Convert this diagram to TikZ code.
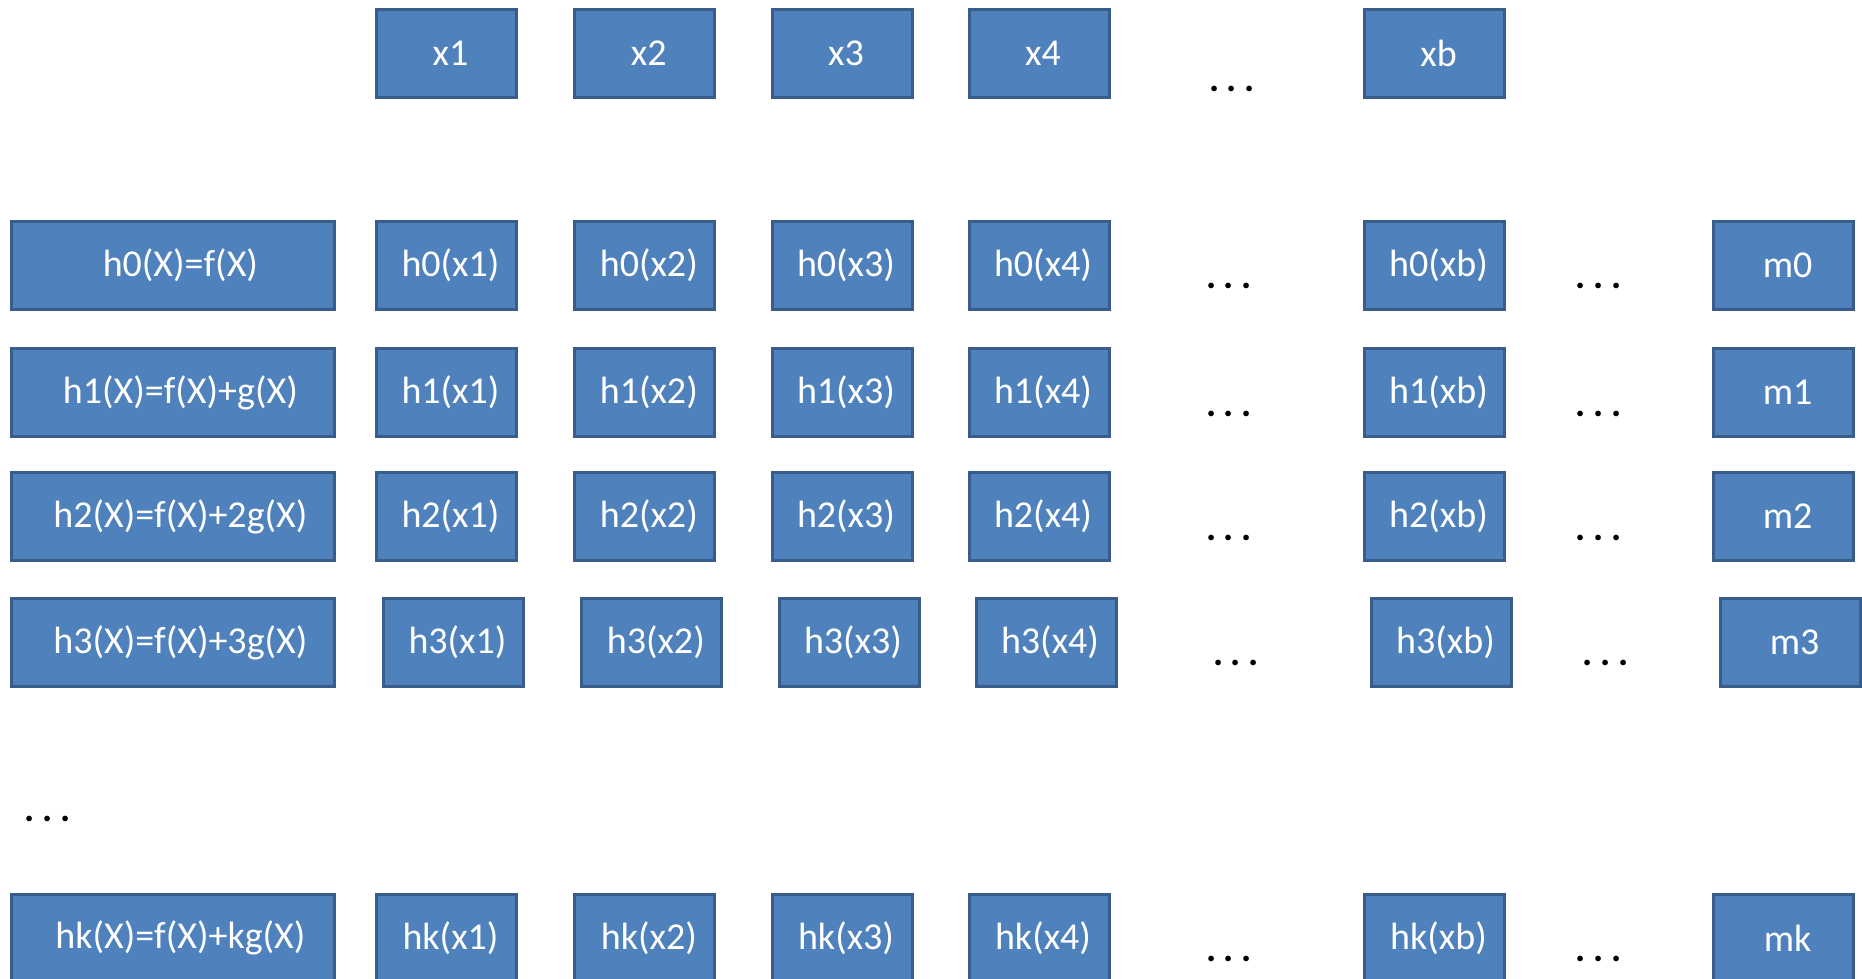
\documentclass[tikz,border=0pt]{standalone}
\usepackage{fontspec}
\setmainfont{Carlito}
\definecolor{boxfill}{HTML}{4F81BD}
\definecolor{boxline}{HTML}{385D8A}
\tikzset{
  cell/.style={draw=boxline, fill=boxfill, line width=1.5pt, text=white,
    minimum width=70pt, minimum height=44pt, inner sep=0pt,
    font=\fontsize{19pt}{22pt}\selectfont},
  wide/.style={cell, minimum width=161.5pt},
  dots/.style={inner sep=0pt, font=\fontsize{19pt}{22pt}\selectfont\bfseries}
}
\newcommand{\mydots}{.\hspace{0.2em}.\hspace{0.2em}.}
\newcommand{\sh}[1]{\hspace{4pt}#1}
\begin{document}
\begin{tikzpicture}[x=0.5pt, y=-0.5pt]
\useasboundingbox (0,0) rectangle (1862,979);
% top row
\node[cell] (x1) at (446.5,53.4) {\sh{x1}};
\node[cell] (x2) at (644.8,53.4) {\sh{x2}};
\node[cell] (x3) at (842,53.4) {\sh{x3}};
\node[cell] (x4) at (1039,53.4) {\sh{x4}};
\node[dots] (xd) at (1232,89) {\mydots};
\node[cell] (xb) at (1434.5,53.4) {\sh{xb}};
% rows
\foreach \r/\y/\s/\lab in {0/265/0/{h0(X)=f(X)}, 1/392.5/0/{h1(X)=f(X)+g(X)}, 2/516.6/0/{h2(X)=f(X)+2g(X)}, 3/642.4/7/{h3(X)=f(X)+3g(X)}, k/938/0/{hk(X)=f(X)+kg(X)}}{
  \node[wide] (h\r f) at (173.4,\y) {\hspace{7pt}\lab};
  \node[cell] (h\r a) at (446.5+\s,\y) {\sh{h\r(x1)}};
  \node[cell] (h\r b) at (644.8+\s,\y) {\sh{h\r(x2)}};
  \node[cell] (h\r c) at (842+\s,\y) {\sh{h\r(x3)}};
  \node[cell] (h\r d) at (1039+\s,\y) {\sh{h\r(x4)}};
  \node[dots] (h\r p) at (1229+\s,\y+21) {\mydots};
  \node[cell] (h\r e) at (1434.5+\s,\y) {\sh{h\r(xb)}};
  \node[dots] (h\r q) at (1598.5+\s,\y+21) {\mydots};
  \node[cell] (h\r m) at (1783.6+\s,\y) {\sh{m\r}};
}
\node[dots] (vd) at (47.5,819) {\mydots};
\end{tikzpicture}
\end{document}
